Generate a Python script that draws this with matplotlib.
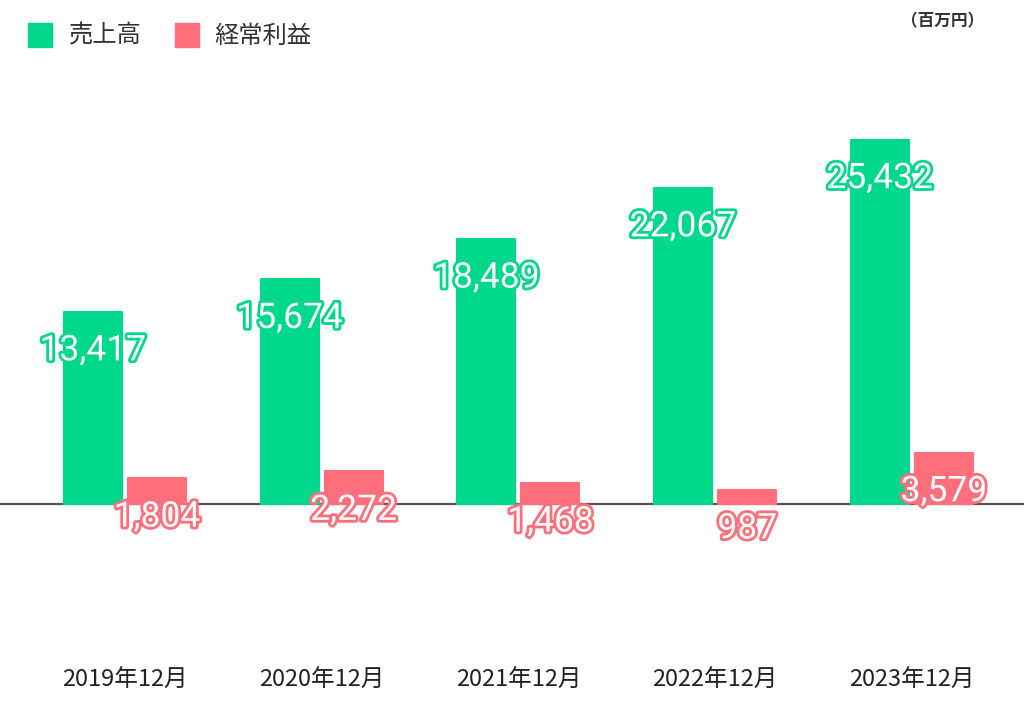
import numpy as np
import matplotlib.pyplot as plt
import matplotlib.patheffects as pe

plt.rcParams['font.family'] = ['Noto Sans CJK JP', 'DejaVu Sans']

years = ['2019年12月', '2020年12月', '2021年12月', '2022年12月', '2023年12月']
sales = [13417, 15674, 18489, 22067, 25432]
profit = [1804, 2272, 1468, 987, 3579]

green = '#00d98b'
pink = '#ff6f7b'

fig = plt.figure(figsize=(10.24, 7.11), dpi=100)
# axes in pixel terms: x 0..1024, y 100..640 (from top)
ax = fig.add_axes([0, 71 / 711, 1, 540 / 711])

x = np.arange(len(years))
w = 0.295
off = 0.163

ax.bar(x - off, sales, w, color=green, edgecolor=green, linewidth=1.5,
       joinstyle='round', zorder=3)
ax.bar(x + off, profit, w, color=pink, edgecolor=pink, linewidth=1.5,
       joinstyle='round', zorder=3)

ax.axhline(0, color='#555555', lw=1.6, zorder=2)

unit = 69.8  # value per pixel
ax.set_ylim(-136 * unit, 404 * unit)
ax.set_xlim(-0.635, 4.57)

def label(xs, vals, color):
    for xi, v in zip(xs, vals):
        t = ax.text(xi, v - 39 * unit, f'{v:,}', ha='center', va='center',
                    fontsize=25.5, color='white', family=['Roboto', 'DejaVu Sans'],
                    zorder=5)
        t.set_path_effects([pe.Stroke(linewidth=4, foreground=color), pe.Normal()])

label(x - off, sales, green)
label(x + off, profit, pink)

ax.set_xticks(x)
ax.set_xticklabels(years, fontsize=17, color='#222222')
ax.tick_params(axis='x', length=0, pad=21)
ax.set_yticks([])
for s in ax.spines.values():
    s.set_visible(False)

# legend
fig.patches.append(plt.Rectangle((28 / 1024, 1 - 47 / 711), 24 / 1024, 24 / 711,
                                 transform=fig.transFigure, color=green))
fig.text(69 / 1024, 1 - 36 / 711, '売上高', fontsize=17.5, color='#333333', va='center')
fig.patches.append(plt.Rectangle((175 / 1024, 1 - 47 / 711), 24 / 1024, 24 / 711,
                                 transform=fig.transFigure, color=pink))
fig.text(214 / 1024, 1 - 36 / 711, '経常利益', fontsize=17.5, color='#333333', va='center')

fig.text(984 / 1024, 1 - 21 / 711, '（百万円）', fontsize=12, color='#333333',
         ha='right', va='center', fontweight='bold')

fig.savefig('out.png', dpi=100)
